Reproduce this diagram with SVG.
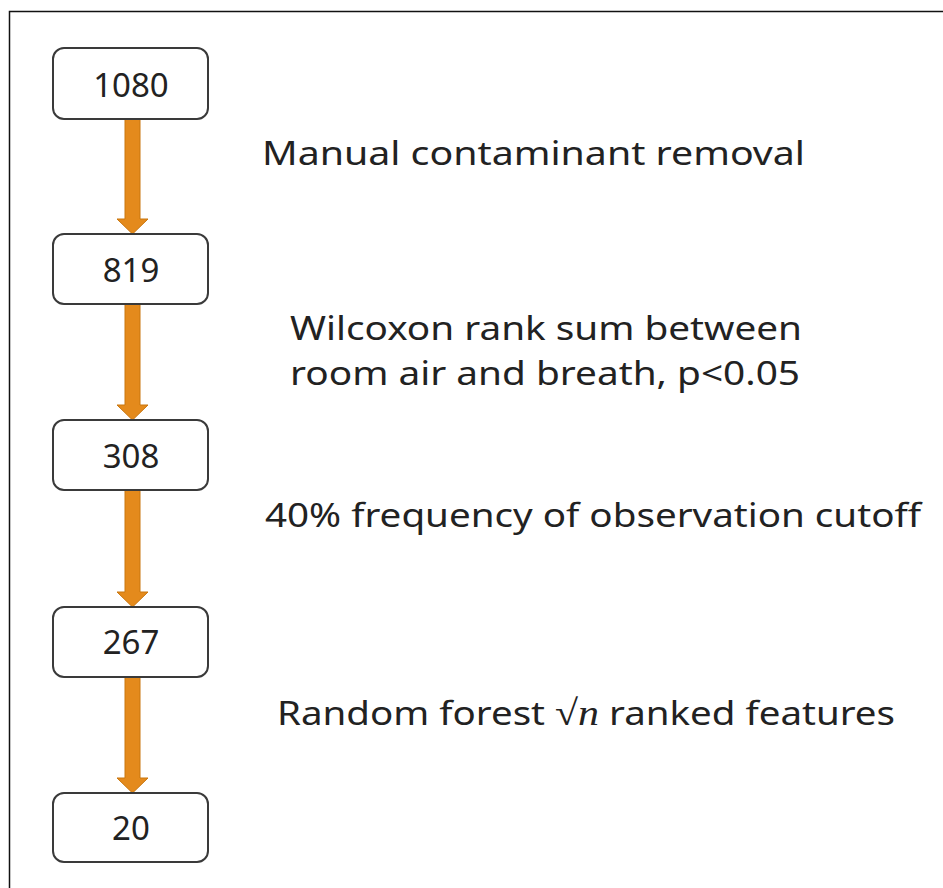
<svg xmlns="http://www.w3.org/2000/svg" width="943" height="888" viewBox="0 0 943 888">
<style>
.box{fill:#fff;stroke:#3a3a3a;stroke-width:2}
.num{font-family:"Noto Sans","Liberation Sans",sans-serif;font-size:33px;fill:#222;text-anchor:middle}
.lbl{font-family:"Noto Sans","Liberation Sans",sans-serif;font-size:33px;fill:#222}
.arr{fill:#E48A1C;stroke:#C9760F;stroke-width:1}
.math{font-family:"Liberation Serif",serif;font-size:36px}
</style>
<rect width="943" height="888" fill="#fff"/>
<path d="M9.5 888 V11.5 H943" fill="none" stroke="#111" stroke-width="1.5"/>
<g id="connectors">
<path class="arr" d="M125 119 H140 V219 H148 L132.5 234 L117 219 H125 Z"/>
<path class="arr" d="M125 304 H140 V405 H148 L132.5 420 L117 405 H125 Z"/>
<path class="arr" d="M125 490 H140 V592 H148 L132.5 607 L117 592 H125 Z"/>
<path class="arr" d="M125 677 H140 V778 H148 L132.5 793 L117 778 H125 Z"/>
</g>
<g id="n1080"><rect class="box" x="53" y="48" width="155" height="71" rx="11"/><text class="num" x="131" y="97">1080</text></g>
<g id="n819"><rect class="box" x="53" y="234" width="155" height="70" rx="11"/><text class="num" x="131" y="282">819</text></g>
<g id="n308"><rect class="box" x="53" y="420" width="155" height="70" rx="11"/><text class="num" x="131" y="468">308</text></g>
<g id="n267"><rect class="box" x="53" y="607" width="155" height="70" rx="11"/><text class="num" x="131" y="654">267</text></g>
<g id="n20"><rect class="box" x="53" y="793" width="155" height="69" rx="11"/><text class="num" x="131" y="840">20</text></g>
<g id="labels">
<text class="lbl" x="262" y="165" textLength="543" lengthAdjust="spacingAndGlyphs">Manual contaminant removal</text>
<text class="lbl" x="290" y="340" textLength="512" lengthAdjust="spacingAndGlyphs">Wilcoxon rank sum between</text>
<text class="lbl" x="290" y="385" textLength="510" lengthAdjust="spacingAndGlyphs">room air and breath, p&lt;0.05</text>
<text class="lbl" x="265" y="527" textLength="656" lengthAdjust="spacingAndGlyphs">40% frequency of observation cutoff</text>
<text class="lbl" x="277" y="725" textLength="618" lengthAdjust="spacingAndGlyphs">Random forest <tspan class="math">√</tspan><tspan class="math" font-style="italic">n</tspan> ranked features</text>
</g>
</svg>
